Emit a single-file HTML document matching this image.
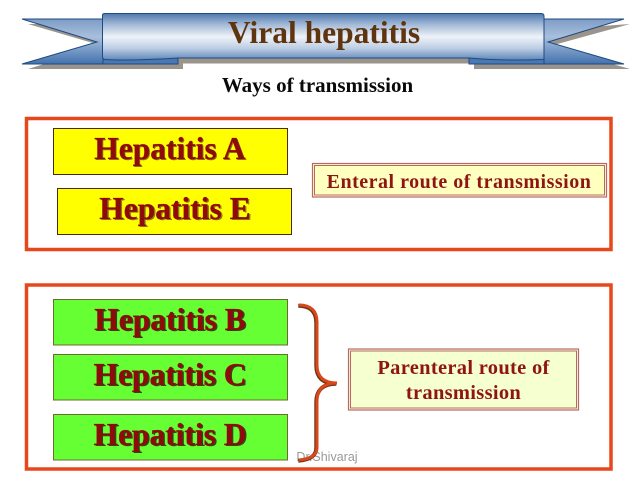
<!DOCTYPE html>
<html>
<head>
<meta charset="utf-8">
<style>
html,body{margin:0;padding:0;background:#fff;width:638px;height:479px;overflow:hidden}
svg{display:block}
text{font-family:"Liberation Serif",serif;font-weight:bold;text-anchor:middle}
</style>
</head>
<body>
<svg width="638" height="479" viewBox="0 0 638 479" xmlns="http://www.w3.org/2000/svg">
<defs>
<linearGradient id="b" x1="0" y1="0" x2="0" y2="1">
<stop offset="0" stop-color="#4f78ae"/>
<stop offset=".22" stop-color="#9db5d5"/>
<stop offset=".5" stop-color="#eef2f8"/>
<stop offset=".75" stop-color="#bccde3"/>
<stop offset="1" stop-color="#5f87ba"/>
</linearGradient>
<linearGradient id="t" x1="0" y1="0" x2="0" y2="1">
<stop offset="0" stop-color="#7d9dc7"/>
<stop offset=".4" stop-color="#a9bfdc"/>
<stop offset="1" stop-color="#4272ae"/>
</linearGradient>
</defs>

<!-- banner shadows -->
<polygon points="28,24 108,24 108,69 28,69 103,46" fill="#9a948c"/>
<rect x="100" y="58" width="83" height="11" fill="#9a948c"/>
<polygon points="630,24 550,46 630,69 474,69 474,58 545,30" fill="#9a948c"/>
<rect x="178" y="58" width="300" height="5.500" fill="#9a948c"/>

<!-- tails -->
<polygon points="22,19 103,19 103,64 22,64 97,42" fill="url(#t)" stroke="#1f4a80" stroke-width="1"/>
<polygon points="624,19 543,19 543,64 624,64 548,42" fill="url(#t)" stroke="#1f4a80" stroke-width="1"/>
<rect x="103" y="55" width="75" height="9" fill="#4a78b2" stroke="#1f4a80" stroke-width="1"/>
<rect x="469" y="55" width="75" height="9" fill="#4a78b2" stroke="#1f4a80" stroke-width="1"/>

<!-- banner body -->
<path d="M102.500,15 Q102.500,13.500 105,13.500 L541,13.500 Q544,13.500 544,16 L544,59.500 Q500,61 469,58 L178,58 Q130,61 105,59.500 Q102.500,59 102.500,57 Z" fill="url(#b)" stroke="#1f4a80" stroke-width="1"/>
<text x="324" y="43" font-size="31.500" fill="#5f3510">Viral hepatitis</text>
<text x="317.500" y="92" font-size="21" fill="#0a0a0a">Ways of transmission</text>

<!-- orange frames -->
<rect x="26.500" y="118.500" width="584.500" height="131" fill="#fff" stroke="#e8471b" stroke-width="3.500"/>
<rect x="26.500" y="285" width="584.500" height="184" fill="#fff" stroke="#e8471b" stroke-width="3.500"/>

<!-- yellow boxes -->
<rect x="53.500" y="128.500" width="234" height="46" fill="#ffff00" stroke="#4d2a08" stroke-width="1"/>
<rect x="57.500" y="188.500" width="234" height="46" fill="#ffff00" stroke="#4d2a08" stroke-width="1"/>

<!-- green boxes -->
<rect x="53.500" y="299.500" width="234" height="45.500" fill="#66ff33" stroke="#6f6a30" stroke-width="1"/>
<rect x="53.500" y="354.500" width="234" height="45.500" fill="#66ff33" stroke="#6f6a30" stroke-width="1"/>
<rect x="53.500" y="414.500" width="234" height="45.500" fill="#66ff33" stroke="#6f6a30" stroke-width="1"/>

<!-- big label shadows -->
<g font-size="31.500" fill="#8f7a20">
<text x="171" y="160">Hepatitis A</text>
<text x="176.500" y="220">Hepatitis E</text>
</g>
<g font-size="31.500" fill="#2d4a14">
<text x="171.500" y="331">Hepatitis B</text>
<text x="171.500" y="386">Hepatitis C</text>
<text x="171.500" y="446">Hepatitis D</text>
</g>
<!-- big labels -->
<g font-size="31.500" fill="#8f0b0b" stroke="#8f0b0b" stroke-width=".3">
<text x="170" y="159">Hepatitis A</text>
<text x="175" y="219">Hepatitis E</text>
<text x="170" y="330">Hepatitis B</text>
<text x="170" y="385">Hepatitis C</text>
<text x="170" y="445">Hepatitis D</text>
</g>

<!-- route boxes -->
<rect x="312.500" y="163.500" width="294" height="33.500" fill="#ffffc0" stroke="#b8686c" stroke-width="1.200"/>
<rect x="314.500" y="165.500" width="290" height="29.500" fill="none" stroke="#b8686c" stroke-width="1"/>
<text x="459" y="188" font-size="20" fill="#8f1414" style="letter-spacing:.5px">Enteral route of transmission</text>

<rect x="348.500" y="349" width="230" height="61" fill="#f6ffcf" stroke="#b8686c" stroke-width="1.200"/>
<rect x="350.500" y="351" width="226" height="57" fill="none" stroke="#b8686c" stroke-width="1"/>
<text x="463.500" y="374" font-size="20.500" fill="#8f1414" style="letter-spacing:.3px">Parenteral route of</text>
<text x="463.500" y="399" font-size="20.500" fill="#8f1414" style="letter-spacing:.3px">transmission</text>

<!-- watermark -->
<text x="327" y="461" font-size="12.500" fill="#9a9a9a" style="font-family:'Liberation Sans',sans-serif;font-weight:normal">Dr.Shivaraj</text>

<!-- brace -->
<path d="M299,305 C311,305 317,311 317,322 L317,365 C317,376 323,383 337,383 C323,383 317,390 317,401 L317,447 C317,455 311,459 299,460" fill="none" stroke="#6e3512" stroke-width="4" transform="translate(-.7,.8)"/>
<path d="M299,305 C311,305 317,311 317,322 L317,365 C317,376 323,383 337,383 C323,383 317,390 317,401 L317,447 C317,455 311,459 299,460" fill="none" stroke="#d8481a" stroke-width="3"/>
</svg>
</body>
</html>
